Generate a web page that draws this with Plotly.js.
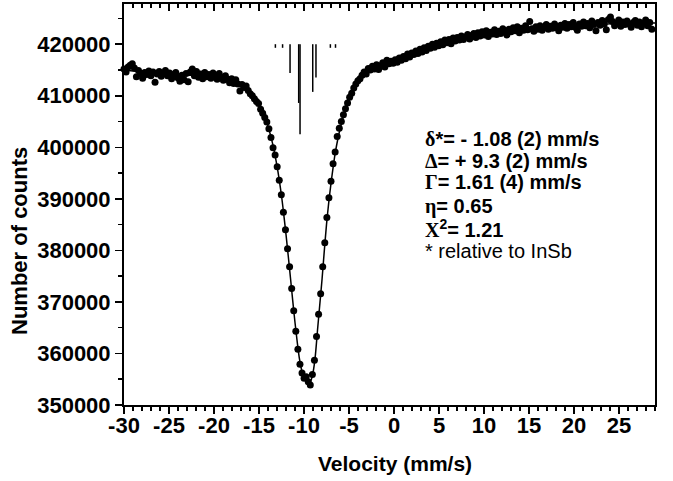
<!DOCTYPE html>
<html><head><meta charset="utf-8">
<script src="https://cdn.plot.ly/plotly-3.0.1.min.js"></script>
<style>html,body{margin:0;padding:0;background:#fff}#chart{width:673px;height:481px}</style>
</head><body><div id="chart"></div>
<script>
// Channel velocities (mm/s)
const velocity = [
-30.00,-29.77,-29.54,-29.31,-29.08,-28.85,-28.62,-28.39,-28.16,-27.93,
-27.70,-27.47,-27.24,-27.01,-26.78,-26.55,-26.32,-26.09,-25.86,-25.63,
-25.40,-25.17,-24.94,-24.71,-24.48,-24.25,-24.02,-23.79,-23.56,-23.33,
-23.10,-22.87,-22.64,-22.41,-22.18,-21.95,-21.72,-21.49,-21.26,-21.03,
-20.80,-20.57,-20.34,-20.11,-19.88,-19.65,-19.42,-19.19,-18.96,-18.73,
-18.50,-18.27,-18.04,-17.81,-17.58,-17.35,-17.12,-16.89,-16.66,-16.43,
-16.20,-15.97,-15.74,-15.51,-15.28,-15.05,-14.82,-14.59,-14.36,-14.13,
-13.90,-13.67,-13.44,-13.21,-12.98,-12.75,-12.52,-12.29,-12.06,-11.83,
-11.60,-11.37,-11.14,-10.91,-10.68,-10.45,-10.22,-9.99,-9.76,-9.53,
-9.30,-9.07,-8.84,-8.61,-8.38,-8.15,-7.92,-7.69,-7.46,-7.23,
-7.00,-6.77,-6.54,-6.31,-6.08,-5.85,-5.62,-5.39,-5.16,-4.93,
-4.70,-4.47,-4.24,-4.01,-3.78,-3.55,-3.32,-3.09,-2.86,-2.63,
-2.40,-2.17,-1.94,-1.71,-1.48,-1.25,-1.02,-0.79,-0.56,-0.33,
-0.10,0.13,0.36,0.59,0.82,1.05,1.28,1.51,1.74,1.97,
2.20,2.43,2.66,2.89,3.12,3.35,3.58,3.81,4.04,4.27,
4.50,4.73,4.96,5.19,5.42,5.65,5.88,6.11,6.34,6.57,
6.80,7.03,7.26,7.49,7.72,7.95,8.18,8.41,8.64,8.87,
9.10,9.33,9.56,9.79,10.02,10.25,10.48,10.71,10.94,11.17,
11.40,11.63,11.86,12.09,12.32,12.55,12.78,13.01,13.24,13.47,
13.70,13.93,14.16,14.39,14.62,14.85,15.08,15.31,15.54,15.77,
16.00,16.23,16.46,16.69,16.92,17.15,17.38,17.61,17.84,18.07,
18.30,18.53,18.76,18.99,19.22,19.45,19.68,19.91,20.14,20.37,
20.60,20.83,21.06,21.29,21.52,21.75,21.98,22.21,22.44,22.67,
22.90,23.13,23.36,23.59,23.82,24.05,24.28,24.51,24.74,24.97,
25.20,25.43,25.66,25.89,26.12,26.35,26.58,26.81,27.04,27.27,
27.50,27.73,27.96,28.19,28.42,28.65];

// Measured number of counts per channel
const counts = [
415200,414600,415600,415900,416200,415400,413700,414900,414300,413400,
414500,414100,414800,413900,414600,412600,414200,414700,413800,414300,
414900,413900,414400,413300,414100,414500,413500,412800,414000,413100,
414300,412700,414600,415200,413900,414700,413600,414200,413300,414500,
413700,414100,413400,414400,413800,413200,414300,413600,413000,413900,
413200,412500,413300,412400,413100,412300,410900,412200,411600,411900,
411000,410400,410000,409400,408900,408500,407400,406600,405800,404900,
403600,401900,399900,398500,396200,393600,390800,387400,384000,380300,
376800,372600,368300,364300,360800,357900,356200,355200,355500,354500,
353900,355900,358700,363300,367600,371600,376800,381500,386400,390200,
393400,396800,399100,402100,403700,405000,406300,407500,408600,409700,
410500,411500,412300,412900,413300,414000,414600,414200,415300,415000,
415700,415200,416000,415100,415800,416400,415600,416900,416200,416700,
416300,417000,416500,417300,416900,417600,417200,418100,417500,418300,
418000,418700,418200,419000,418500,419300,418800,419600,419200,420000,
419400,420200,419700,420500,419900,420800,420300,420900,420100,421200,
420600,421300,420800,421600,420900,421400,421900,421000,421700,422100,
421300,422200,421600,422400,421800,422600,421500,422300,422000,422800,
421900,422500,422100,423000,422300,421800,422900,422400,423200,422600,
423400,422200,423100,422700,423600,422800,424400,423000,422500,423400,
422900,423600,422700,423300,423800,422900,423500,423100,423900,423200,
422600,423700,423300,424000,423100,423800,423400,424200,423300,422700,
423900,423500,424300,423600,424000,423200,424500,423800,422600,424200,
423700,424600,423900,422800,424800,425300,424400,423600,424100,424700,
423500,424300,423800,424500,423900,423300,424200,424600,423700,424300,
423400,424100,424700,423600,424200,422900];

// Fitted curve
const fitVelocity = [
-30,-29,-28,-27,-26,-25,-24,-23,-22,-21,-20,-19,-18,-17,-16.5,-16,-15.5,-15,-14.5,-14,-13.5,-13,
-12.5,-12.25,-12,-11.75,-11.5,-11.25,-11,-10.75,-10.5,-10.25,-10,-9.75,-9.5,-9.25,-9,-8.75,-8.5,-8.25,
-8,-7.75,-7.5,-7.25,-7,-6.75,-6.5,-6,-5.5,-5,-4.5,-4,-3.5,-3,-2.5,-2,-1,0,1,2,3,4,5,6,7,8,9,10,
11,12,13,14,15,16,17,18,19,20,21,22,23,24,25,26,27,28,29];
const fitCounts = [
415000,414800,414600,414400,414300,414200,414100,414000,413950,413850,413700,413450,413050,412350,411750,410950,409850,408400,406500,404100,400800,396400,
390600,387000,383100,378900,374600,370200,366000,362200,358900,356700,355300,354600,354400,354700,356300,359400,364500,369400,
374300,379800,385000,389300,393000,396300,399200,403500,406600,409100,411000,412500,413600,414400,415000,415500,416200,416800,417500,418200,418800,419400,419900,420400,420850,421250,421600,421900,
422150,422400,422600,422800,422950,423100,423250,423350,423450,423550,423650,423750,423850,423950,424000,424050,424100,424100,424100];

// Stick spectrum (line positions and depths)
const stickVelocity = [-13.18,-12.38,-11.55,-10.59,-10.44,-9.03,-8.67,-7.07,-6.50];
const stickBottom   = [419300,419300,414400,408600,402550,410750,413550,419300,419300];
const stickTop = 420000;

// Ticks
const xTickVals = [-30,-25,-20,-15,-10,-5,0,5,10,15,20,25];
const xTickText = ['-30','-25','-20','-15','-10','-5','0','5','10','15','20','25'];
const yTickVals = [350000,360000,370000,380000,390000,400000,410000,420000];
const yTickText = ['350000','360000','370000','380000','390000','400000','410000','420000'];

// Parameter text
const serif = s => '<span style="font-family:\'Liberation Serif\',serif">' + s + '</span>';
const paramLines = [
  '<b>' + serif('δ') + '*= - 1.08 (2) mm/s</b>',
  '<b>' + serif('Δ') + '= + 9.3 (2) mm/s</b>',
  '<b>' + serif('Γ') + '= 1.61 (4) mm/s</b>',
  '<b>' + serif('η') + '= 0.65</b>',
  '<b>' + serif('Χ') + '<sup>2</sup>= 1.21</b>',
  '* relative to InSb'
];
const paramY = [0.663, 0.608, 0.555, 0.496, 0.440, 0.385];

const stickX = [], stickY = [];
stickVelocity.forEach((v, i) => { stickX.push(v, v, null); stickY.push(stickTop, stickBottom[i], null); });

const FONT = 'Liberation Sans, Arial, Helvetica, sans-serif';
const traces = [
  {x: fitVelocity, y: fitCounts, xaxis:'x3', type:'scatter', mode:'lines', line:{color:'#000', width:1.5, shape:'spline', smoothing:0.8}, hoverinfo:'skip'},
  {x: velocity, y: counts, type:'scatter', mode:'markers', marker:{color:'#000', size:7, symbol:'circle'}, cliponaxis:false},
  {x: stickX, y: stickY, xaxis:'x2', type:'scatter', mode:'lines', line:{color:'#000', width:1.5}, hoverinfo:'skip'}
];

const tickFont = {family: FONT, size: 22, color:'#000', weight:'bold'};
const layout = {
  width: 673, height: 481,
  margin: {l:124, r:18, t:4, b:76, pad:0},
  paper_bgcolor:'#fff', plot_bgcolor:'#fff',
  showlegend:false,
  font:{family: FONT, size:20, color:'#000'},
  xaxis: {
    range:[-30,29], tickmode:'array', tickvals:xTickVals, showticklabels:false,
    ticks:'outside', ticklen:7, tickwidth:1.5, tickcolor:'#000',
    showline:true, linecolor:'#000', linewidth:2, mirror:true,
    showgrid:false, zeroline:false,
    minor:{tickmode:'linear', tick0:-30, dtick:1, ticks:'outside', ticklen:4, tickwidth:1.5, tickcolor:'#000', showgrid:false}
  },
  xaxis2: {
    range:[-30,29], overlaying:'x', side:'top', anchor:'y',
    tickmode:'array', tickvals:xTickVals, showticklabels:false,
    ticks:'inside', ticklen:7, tickwidth:1.5, tickcolor:'#000',
    showline:false, showgrid:false, zeroline:false,
    minor:{tickmode:'linear', tick0:-30, dtick:1, ticks:'inside', ticklen:4, tickwidth:1.5, tickcolor:'#000', showgrid:false}
  },
  xaxis3: {
    range:[-30,29], overlaying:'x', side:'bottom', anchor:'y',
    tickmode:'array', tickvals:xTickVals, ticktext:xTickText, showticklabels:true,
    ticks:'', ticklabelstandoff:5, tickfont:tickFont,
    showline:false, showgrid:false, zeroline:false
  },
  yaxis: {
    range:[350000,427800], tickmode:'array', tickvals:yTickVals, ticktext:yTickText,
    ticks:'outside', ticklen:7, tickwidth:1.5, tickcolor:'#000',
    showline:true, linecolor:'#000', linewidth:2, mirror:true,
    showgrid:false, zeroline:false, tickfont:tickFont,
    minor:{tickmode:'linear', tick0:350000, dtick:5000, ticks:'outside', ticklen:4, tickwidth:1.5, tickcolor:'#000', showgrid:false}
  },
  annotations: [
    ...paramLines.map((t, i) => ({text:t, xref:'paper', yref:'paper', x:0.563, y:paramY[i], xanchor:'left', yanchor:'middle', showarrow:false, font:{family:FONT, size:20, color:'#000'}})),
    {text:'<b>Velocity (mm/s)</b>', xref:'paper', yref:'paper', x:0.51, y:-0.145, xanchor:'center', yanchor:'middle', showarrow:false, font:{family:FONT, size:21, color:'#000'}},
    {text:'<b>Number of counts</b>', xref:'paper', yref:'paper', x:-0.197, y:0.41, xanchor:'center', yanchor:'middle', textangle:-90, showarrow:false, font:{family:FONT, size:22, color:'#000'}}
  ]
};

Plotly.newPlot('chart', traces, layout, {displayModeBar:false, staticPlot:true});
</script>
</body></html>
